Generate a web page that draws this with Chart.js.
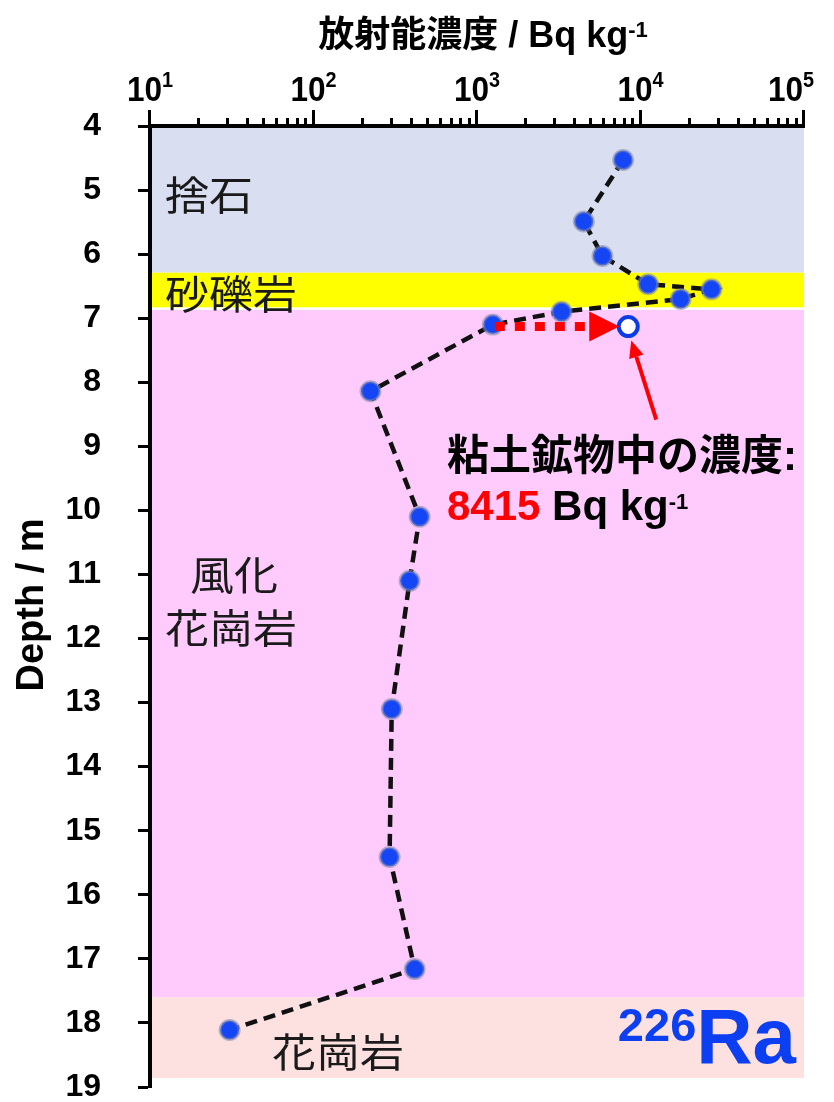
<!DOCTYPE html>
<html>
<head>
<meta charset="utf-8">
<script src="https://cdn.jsdelivr.net/npm/chart.js@4.4.1/dist/chart.umd.min.js"></script>
<style>
  html, body { margin: 0; padding: 0; background: #ffffff; }
  canvas { display: block; }
</style>
</head>
<body>
<canvas id="profile" width="834" height="1102"></canvas>
<script>
// 226Ra activity concentration (Bq/kg) down the borehole, depth in metres
const depths   = [4.53, 5.49, 6.03, 6.47, 6.55, 6.70, 6.90, 7.10, 8.14, 10.10, 11.10, 13.10, 15.41, 17.16, 18.11];
const activity = [7830, 4500, 5850, 11140, 27200, 17600, 3290, 1250, 223, 446, 387, 301, 292, 416, 30.7];

// concentration measured in the clay-mineral fraction
const clayDepth    = [7.13];
const clayActivity = [8415];

// geological layers
const layerLines  = [['捨石'], ['砂礫岩'], ['風化', '花崗岩'], ['花崗岩']];
const layerTop    = [4.00, 6.29, 6.87, 17.60];
const layerBottom = [6.29, 6.83, 17.60, 18.86];

// axis ticks
const depthTicks     = [4, 5, 6, 7, 8, 9, 10, 11, 12, 13, 14, 15, 16, 17, 18, 19];
const xTickExponents = [1, 2, 3, 4, 5];

// ---- styling / layout ----
const LAT = '"Liberation Sans", Arial, "Noto Sans CJK JP", sans-serif';
const CJK = '"Noto Sans CJK JP", "Liberation Sans", sans-serif';
const layerColors = ['#d9dff1', '#ffff00', '#ffcbfd', '#fde0e0'];
const BLUE = '#1446f6';
const RED = '#ff0000';
// label anchors: left edge in px, vertical centre as depth
const layerLabelPlace = [
  [[165, 5.08]],
  [[165, 6.62]],
  [[190, 11.01], [165, 11.84]],
  [[272, 18.45]]
];

const series = depths.map((d, i) => ({ x: activity[i], y: d }));
const clay = clayDepth.map((d, i) => ({ x: clayActivity[i], y: d }));

function textRuns(ctx, runs, x, y, align, sx) {
  sx = sx || 1;
  let w = 0;
  runs.forEach(r => { ctx.font = r.font; r.w = ctx.measureText(r.text).width; w += r.w; });
  const x0 = align === 'center' ? x - w * sx / 2 : (align === 'right' ? x - w * sx : x);
  ctx.save();
  ctx.translate(x0, y);
  ctx.scale(sx, 1);
  ctx.textAlign = 'left';
  ctx.textBaseline = 'alphabetic';
  let cx = 0;
  runs.forEach(r => {
    ctx.font = r.font;
    ctx.fillStyle = r.color || '#000';
    ctx.fillText(r.text, cx, r.dy || 0);
    cx += r.w;
  });
  ctx.restore();
  return w * sx;
}

const layersPlugin = {
  id: 'layers',
  beforeDraw(chart) {
    const { ctx, chartArea: a, scales: { y } } = chart;
    ctx.save();
    layerTop.forEach((t, i) => {
      const y0 = y.getPixelForValue(t);
      const y1 = y.getPixelForValue(layerBottom[i]);
      ctx.fillStyle = layerColors[i];
      ctx.fillRect(a.left, y0, a.right - a.left, y1 - y0);
    });
    ctx.restore();
  },
  beforeDatasetsDraw(chart) {
    const { ctx, scales: { y } } = chart;
    ctx.save();
    ctx.fillStyle = '#1a1a1a';
    ctx.textBaseline = 'middle';
    ctx.textAlign = 'left';
    layerLines.forEach((lines, i) => {
      lines.forEach((txt, j) => {
        const [px, d] = layerLabelPlace[i][j];
        ctx.save();
        ctx.translate(px, y.getPixelForValue(d));
        ctx.scale(1.1, 1);
        ctx.font = '400 40px ' + CJK;
        ctx.fillText(txt, 0, 0);
        ctx.restore();
      });
    });
    ctx.restore();
  },
  afterDatasetsDraw(chart) {
    const { ctx, scales: { x, y } } = chart;
    const cx = x.getPixelForValue(clayActivity[0]);
    const cy = y.getPixelForValue(clayDepth[0]);
    const sx = x.getPixelForValue(activity[7]);
    ctx.save();
    // dotted arrow from the bulk value to the clay value
    const tip = cx - 9, base = tip - 30;
    ctx.strokeStyle = RED;
    ctx.lineWidth = 9;
    ctx.setLineDash([10, 10]);
    ctx.beginPath();
    ctx.moveTo(sx + 2, cy);
    ctx.lineTo(base, cy);
    ctx.stroke();
    ctx.setLineDash([]);
    ctx.fillStyle = RED;
    ctx.beginPath();
    ctx.moveTo(tip, cy);
    ctx.lineTo(base, cy - 15);
    ctx.lineTo(base, cy + 15);
    ctx.closePath();
    ctx.fill();
    // pointer arrow to the clay value
    const tx = cx + 3, ty = cy + 14;
    const fx = cx + 28, fy = cy + 93;
    const ang = Math.atan2(ty - fy, tx - fx);
    const hl = 17, hw = 7.5;
    const bx = tx - hl * Math.cos(ang), by = ty - hl * Math.sin(ang);
    ctx.lineWidth = 4;
    ctx.beginPath();
    ctx.moveTo(fx, fy);
    ctx.lineTo(bx, by);
    ctx.stroke();
    ctx.beginPath();
    ctx.moveTo(tx, ty);
    ctx.lineTo(bx + hw * Math.sin(ang), by - hw * Math.cos(ang));
    ctx.lineTo(bx - hw * Math.sin(ang), by + hw * Math.cos(ang));
    ctx.closePath();
    ctx.fill();
    ctx.restore();

    // annotation text
    textRuns(ctx, [
      { text: '粘土鉱物中の濃度', font: 'bold 42px ' + CJK },
      { text: ':', font: 'bold 42px ' + LAT }
    ], 447, 470, 'left');
    textRuns(ctx, [
      { text: '8415', font: 'bold 42px ' + LAT, color: RED },
      { text: ' Bq kg', font: 'bold 42px ' + LAT },
      { text: '-1', font: 'bold 22px ' + LAT, dy: -11 }
    ], 447, 520, 'left');

    // nuclide tag
    textRuns(ctx, [
      { text: '226', font: 'bold 47px ' + LAT, color: '#0d3ff2', dy: -22 },
      { text: 'Ra', font: 'bold 78px ' + LAT, color: '#0d3ff2' }
    ], 796, 1063, 'right');
  },
  afterDraw(chart) {
    const { ctx, chartArea: a, scales: { x } } = chart;
    ctx.save();
    // log tick marks on the top axis
    ctx.strokeStyle = '#000';
    ctx.lineWidth = 3;
    for (let e = 1; e <= 5; e++) {
      for (let m = 1; m <= (e === 5 ? 1 : 9); m++) {
        const px = Math.round(x.getPixelForValue(m * Math.pow(10, e))) - 0.5;
        const len = m === 1 ? 16 : 8;
        ctx.beginPath();
        ctx.moveTo(px, a.top);
        ctx.lineTo(px, a.top - len);
        ctx.stroke();
      }
    }
    // decade labels
    const squeeze = 0.9;
    xTickExponents.forEach(e => {
      const px = x.getPixelForValue(Math.pow(10, e));
      ctx.font = 'bold 35px ' + LAT;
      const w1 = ctx.measureText('10').width;
      ctx.font = 'bold 22px ' + LAT;
      const w2 = ctx.measureText(String(e)).width;
      const w = (w1 + w2) * squeeze;
      const c = Math.min(px, 814 - w / 2);
      textRuns(ctx, [
        { text: '10', font: 'bold 35px ' + LAT },
        { text: String(e), font: 'bold 22px ' + LAT, dy: -14 }
      ], c, 101, 'center', squeeze);
    });
    // axis titles
    textRuns(ctx, [
      { text: '放射能濃度', font: 'bold 36px ' + CJK },
      { text: ' / Bq kg', font: 'bold 36px ' + LAT },
      { text: '-1', font: 'bold 22px ' + LAT, dy: -10 }
    ], 483, 47, 'center');
    ctx.save();
    ctx.translate(33, 605);
    ctx.rotate(-Math.PI / 2);
    ctx.font = 'bold 38px ' + LAT;
    ctx.fillStyle = '#000';
    ctx.textAlign = 'center';
    ctx.textBaseline = 'middle';
    ctx.fillText('Depth / m', 0, 0);
    ctx.restore();
    ctx.restore();
  }
};

new Chart(document.getElementById('profile'), {
  type: 'scatter',
  data: {
    datasets: [
      {
        data: series,
        showLine: true,
        borderColor: '#111111',
        borderWidth: 4.5,
        borderDash: [12, 7],
        tension: 0,
        pointRadius: 9.5,
        pointBackgroundColor: BLUE,
        pointBorderColor: 'rgba(125,135,170,0.55)',
        pointBorderWidth: 3
      },
      {
        data: clay,
        showLine: false,
        pointRadius: 9.5,
        pointBackgroundColor: '#ffffff',
        pointBorderColor: '#0a3be6',
        pointBorderWidth: 4
      }
    ]
  },
  options: {
    responsive: false,
    animation: false,
    events: [],
    clip: false,
    layout: { padding: { top: 0, left: 0, right: 30, bottom: 15 } },
    plugins: { legend: { display: false }, tooltip: { enabled: false } },
    scales: {
      x: {
        type: 'logarithmic',
        position: 'top',
        min: 10,
        max: 100000,
        grid: { display: false, drawTicks: false },
        border: { display: true, width: 4, color: '#000' },
        ticks: { display: false },
        afterFit(s) { s.height = 126; s.paddingLeft = 0; s.paddingRight = 0; }
      },
      y: {
        type: 'linear',
        position: 'left',
        reverse: true,
        min: 4,
        max: 19,
        afterBuildTicks(s) { s.ticks = depthTicks.map(v => ({ value: v })); },
        grid: { display: true, drawOnChartArea: false, drawTicks: true, tickLength: 12, tickWidth: 3, tickColor: '#000' },
        border: { display: true, width: 4, color: '#000' },
        ticks: {
          padding: 37,
          color: '#000',
          autoSkip: false,
          font: { family: LAT, size: 32, weight: 'bold' }
        },
        afterFit(s) { s.width = 150; s.paddingTop = 0; s.paddingBottom = 0; }
      }
    }
  },
  plugins: [layersPlugin]
});
</script>
</body>
</html>
